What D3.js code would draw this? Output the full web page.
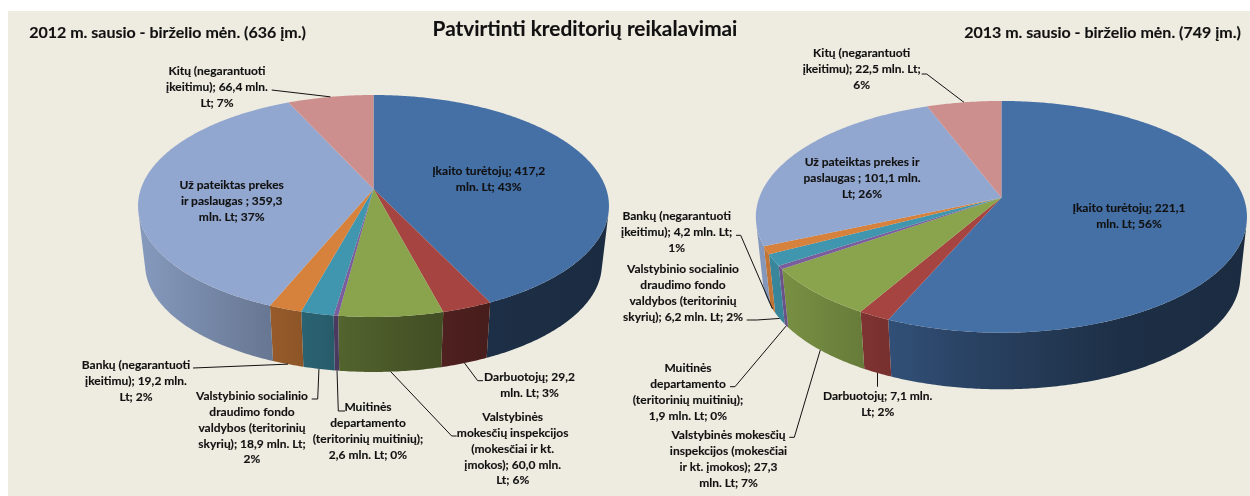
<!DOCTYPE html>
<html lang="lt">
<head>
<meta charset="utf-8">
<script src="https://cdn.jsdelivr.net/npm/d3@7"></script>
<style>
html,body{margin:0;padding:0;background:#fff;overflow:hidden}
svg{display:block}
text{font-family:Lato,"Open Sans",sans-serif;font-weight:700;fill:#111;text-anchor:middle;stroke:#111;stroke-width:.12px}
.soft{filter:blur(.3px)}
</style>
</head>
<body>
<div id="chart"></div>
<script>
// ---------- data ----------
const categories = ["Įkaito turėtojų","Darbuotojų","Valstybinės mokesčių inspekcijos","Muitinės departamento","Valstybinio socialinio draudimo fondo valdybos","Bankų (negarantuoti įkeitimu)","Už pateiktas prekes ir paslaugas","Kitų (negarantuoti įkeitimu)"];
const values2012 = [417.2,29.2,60.0,2.6,18.9,19.2,359.3,66.4];
const values2013 = [221.1,7.1,27.3,1.9,6.2,4.2,101.1,22.5];
const labels2012 = [
  ["Įkaito turėtojų; 417,2","mln. Lt; 43%"],
  ["Darbuotojų; 29,2","mln. Lt; 3%"],
  ["Valstybinės","mokesčių inspekcijos","(mokesčiai ir kt.","įmokos); 60,0 mln.","Lt; 6%"],
  ["Muitinės","departamento","(teritorinių muitinių);","2,6 mln. Lt; 0%"],
  ["Valstybinio socialinio","draudimo fondo","valdybos (teritorinių","skyrių); 18,9 mln. Lt;","2%"],
  ["Bankų (negarantuoti","įkeitimu); 19,2 mln.","Lt; 2%"],
  ["Už pateiktas prekes","ir paslaugas ; 359,3","mln. Lt; 37%"],
  ["Kitų (negarantuoti","įkeitimu); 66,4 mln.","Lt; 7%"]
];
const labels2013 = [
  ["Įkaito turėtojų; 221,1","mln. Lt; 56%"],
  ["Darbuotojų; 7,1 mln.","Lt; 2%"],
  ["Valstybinės mokesčių","inspekcijos (mokesčiai","ir kt. įmokos); 27,3","mln. Lt; 7%"],
  ["Muitinės","departamento","(teritorinių muitinių);","1,9 mln. Lt; 0%"],
  ["Valstybinio socialinio","draudimo fondo","valdybos (teritorinių","skyrių); 6,2 mln. Lt; 2%"],
  ["Bankų (negarantuoti","įkeitimu); 4,2 mln. Lt;","1%"],
  ["Už pateiktas prekes ir","paslaugas ; 101,1 mln.","Lt; 26%"],
  ["Kitų (negarantuoti","įkeitimu); 22,5 mln. Lt;","6%"]
];
const mainTitle = "Patvirtinti kreditorių reikalavimai";
const title2012 = "2012 m. sausio - birželio mėn. (636 įm.)";
const title2013 = "2013 m. sausio - birželio mėn. (749 įm.)";

// ---------- style ----------
const sliceColors = ["#4570a6","#a64441","#89a44c","#7a5d9c","#4096ae","#d6813c","#92a7cf","#cd8f8e"];
const shade = d3.scaleLinear().domain([-1,-.6,-.2,.2,.5,1]).range([.92,.77,.62,.5,.42,.39]);

// ---------- layout ----------
const W = 1250, H = 496, LH = 15.8;
const pieLeft = {
  values: values2012, labels: labels2012,
  top: {cx:373.5, ay:189, A:232.7, B:108.4}, bottom: {cx:373.5, ay:248, A:225.7, B:105}, k:.153,
  textPos: [[488.7,171],[529.5,377],[512.7,417],[368,407],[252,396],[136,365],[231.7,185],[217,71]],
  leaders: [null,
    [[477.7,380.7],[483,380.7]],
    [[451.7,436],[456.7,436]],
    [[338.3,411],[345,411]],
    [[317.7,399],[311.7,399]],
    [[193,368]],
    null,
    [[271.7,90]]]
};
const pieRight = {
  values: values2013, labels: labels2013,
  top: {cx:1001.4, ay:197.7, A:242.2, B:112.7}, bottom: {cx:1001.4, ay:257.9, A:235.7, B:109.7}, k:.165,
  textPos: [[1129,208],[877.7,396],[728.5,435],[688,368],[683,269],[676.7,216],[862,162],[861.7,53]],
  leaders: [null,
    [[877.5,386.7]],
    [[794.3,437.3],[789.3,437.3]],
    [[735,386.7],[730,386.7]],
    [[756.7,320],[746.7,320]],
    [[740.7,235.3],[736,235.3]],
    null,
    [[926.7,74],[921.7,74]]]
};

// ---------- drawing ----------
const svg = d3.select("#chart").append("svg").attr("width",W).attr("height",H);
svg.append("rect").attr("x",8).attr("y",11).attr("width",W-8).attr("height",H-11).attr("fill","#eeebe0");
const defs = svg.append("defs");
const line = d3.line();
const pieGen = d3.pie().sort(null).startAngle(0).endAngle(2*Math.PI);
const canvas = svg.append("g").attr("class","soft");

function project(plane,k,t){
  const X = Math.sin(t), Y = -Math.cos(t), w = 1-k*Y;
  return [plane.cx+plane.A*X/w, plane.ay+plane.B*Y/w];
}
function samples(a,b){
  const n = Math.max(2,Math.ceil((b-a)/.01));
  return d3.range(n+1).map(i=>a+(b-a)*i/n);
}
// angle limits of the visible wall: where a wall edge turns tangent to the rim
function wallRange(cfg){
  const cross = t=>{
    const p = project(cfg.top,cfg.k,t), q = project(cfg.top,cfg.k,t+.001), b = project(cfg.bottom,cfg.k,t);
    return (q[0]-p[0])*(b[1]-p[1])-(q[1]-p[1])*(b[0]-p[0]);
  };
  let a = Math.PI, z = Math.PI;
  while(cross(a-.002)<0 && a>0) a -= .002;
  while(cross(z+.002)<0 && z<2*Math.PI) z += .002;
  return [a,z];
}
function drawPie(cfg,idx){
  const arcs = pieGen(cfg.values);
  const g = canvas.append("g");
  const rx = cfg.top.A/Math.sqrt(1-cfg.k*cfg.k);
  const [frontA,frontB] = wallRange(cfg);
  // side walls
  arcs.forEach((d,i)=>{
    const a = Math.max(d.startAngle,frontA), b = Math.min(d.endAngle,frontB);
    if(b<=a) return;
    const id = `wall-${idx}-${i}`;
    const c = d3.rgb(sliceColors[i]);
    const grad = defs.append("linearGradient").attr("id",id).attr("gradientUnits","userSpaceOnUse")
      .attr("x1",cfg.top.cx-rx).attr("x2",cfg.top.cx+rx).attr("y1",0).attr("y2",0);
    shade.domain().forEach(u=>{
      const m = shade(u);
      grad.append("stop").attr("offset",(u+1)/2).attr("stop-color",d3.rgb(c.r*m,c.g*m,c.b*m).formatHex());
    });
    const ts = samples(a,b);
    const pts = ts.map(t=>project(cfg.top,cfg.k,t)).concat(ts.slice().reverse().map(t=>project(cfg.bottom,cfg.k,t)));
    g.append("path").attr("d",line(pts)+"Z").attr("fill",`url(#${id})`);
  });
  // top faces
  arcs.forEach((d,i)=>{
    const pts = [[cfg.top.cx,cfg.top.ay]].concat(samples(d.startAngle,d.endAngle).map(t=>project(cfg.top,cfg.k,t)));
    g.append("path").attr("d",line(pts)+"Z").attr("fill",sliceColors[i]);
  });
  // leaders
  arcs.forEach((d,i)=>{
    const elbows = cfg.leaders[i];
    if(!elbows) return;
    const mid = (d.startAngle+d.endAngle)/2;
    const start = project((mid>frontB||mid<frontA)?cfg.top:cfg.bottom,cfg.k,mid);
    g.append("path").attr("d",line([start].concat(elbows))).attr("fill","none").attr("stroke","#111").attr("stroke-width",1);
  });
  // labels
  cfg.labels.forEach((lines,i)=>{
    const [x,y] = cfg.textPos[i];
    const t = g.append("text").attr("font-size",12);
    lines.forEach((s,j)=>t.append("tspan").attr("x",x).attr("y",y+j*LH+4.2).text(s));
  });
}
drawPie(pieLeft,0);
drawPie(pieRight,1);

canvas.append("text").attr("x",585).attr("y",36).attr("font-size",20.8).text(mainTitle);
canvas.append("text").attr("x",167.5).attr("y",37.5).attr("font-size",16).text(title2012);
canvas.append("text").attr("x",1102.5).attr("y",38).attr("font-size",16).text(title2013);
</script>
</body>
</html>
